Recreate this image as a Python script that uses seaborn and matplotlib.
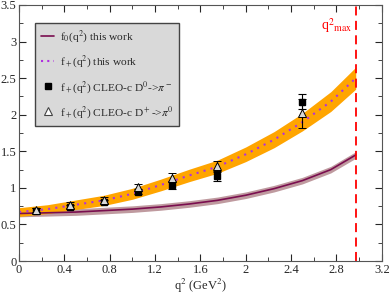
import numpy as np
import pandas as pd
import seaborn as sns
import matplotlib.pyplot as plt
from matplotlib.lines import Line2D

# form factor curves
q2_curve = [0.0, 0.25, 0.5, 0.75, 1.0, 1.25, 1.5, 1.75, 2.0, 2.25, 2.5, 2.75, 2.97]
fplus = [0.67, 0.71, 0.77, 0.83, 0.92, 1.04, 1.17, 1.29, 1.46, 1.66, 1.90, 2.18, 2.50]
fplus_err = [0.06, 0.06, 0.065, 0.07, 0.075, 0.08, 0.085, 0.09, 0.10, 0.11, 0.12, 0.135, 0.15]
fzero = [0.65, 0.66, 0.67, 0.69, 0.71, 0.74, 0.78, 0.83, 0.90, 0.99, 1.10, 1.25, 1.45]
fzero_err = [0.045, 0.045, 0.045, 0.045, 0.045, 0.045, 0.045, 0.045, 0.045, 0.045, 0.045, 0.045, 0.045]

# CLEO-c data
q2_data = [0.15, 0.45, 0.75, 1.05, 1.35, 1.75, 2.5]
d0_val = [0.69, 0.74, 0.81, 0.95, 1.04, 1.16, 2.18]
d0_err = [0.03, 0.03, 0.03, 0.04, 0.05, 0.06, 0.10]
dp_val = [0.70, 0.77, 0.84, 1.01, 1.14, 1.30, 2.02]
dp_err = [0.03, 0.04, 0.04, 0.05, 0.06, 0.07, 0.20]

q2_max = 2.97

sns.set_style("ticks")
plt.rcParams['font.family'] = ['Liberation Serif', 'DejaVu Serif']
plt.rcParams['mathtext.fontset'] = 'stix'

df = pd.DataFrame({'q2': q2_curve, 'fplus': fplus, 'fzero': fzero})
fp = np.array(fplus); fpe = np.array(fplus_err)
f0 = np.array(fzero); f0e = np.array(fzero_err)

fig = plt.figure(figsize=(3.9, 2.94), dpi=100)
ax = fig.add_axes([0.049, 0.112, 0.930, 0.871])

ax.fill_between(q2_curve, f0 - f0e, f0 + f0e, color='#bf9a9f', lw=0)
ax.fill_between(q2_curve, fp - fpe, fp + fpe, color='#ffa500', lw=0)
sns.lineplot(data=df, x='q2', y='fzero', ax=ax, color='#7a0e4f', lw=1.2)
sns.lineplot(data=df, x='q2', y='fplus', ax=ax, color='#b030e0', lw=1.5, linestyle=(0, (1, 2.5)))

ax.errorbar(q2_data, d0_val, yerr=d0_err, fmt='s', color='black', ms=5,
            capsize=3, elinewidth=0.8, capthick=0.8, zorder=4)
ax.errorbar(q2_data, dp_val, yerr=dp_err, fmt='^', mfc='#d8d8d8', mec='black',
            ecolor='black', ms=6, mew=0.7, capsize=3, elinewidth=0.8, capthick=0.8, zorder=5)

ax.axvline(q2_max, color='red', ls=(0, (5, 3)), lw=1.3)
ax.text(2.66, 3.16, r'q$^{2}$$_{\rm max}$', color='red', fontsize=10)

ax.set_xlim(0, 3.2)
ax.set_ylim(0, 3.5)
ax.set_xticks(np.arange(0, 3.21, 0.4))
ax.set_xticks(np.arange(0, 3.21, 0.2), minor=True)
ax.set_yticks(np.arange(0, 3.51, 0.5))
ax.set_yticks(np.arange(0, 3.51, 0.25), minor=True)
ax.set_xticklabels(['0', '0.4', '0.8', '1.2', '1.6', '2', '2.4', '2.8', '3.2'])
ax.set_yticklabels(['0', '0.5', '1', '1.5', '2', '2.5', '3', '3.5'])
ax.tick_params(which='both', direction='in', top=True, right=True, labelsize=9, pad=2)
ax.tick_params(which='major', length=5)
ax.tick_params(which='minor', length=3)
for s in ax.spines.values():
    s.set_color('#555555')
ax.set_xlabel(r'q$^2$ (GeV$^2$)', fontsize=9, labelpad=1)
ax.set_ylabel('')

handles = [
    Line2D([], [], color='#7a0e4f', lw=1.2),
    Line2D([], [], color='#b030e0', lw=1.5, ls=(0, (1, 2))),
    Line2D([], [], marker='s', color='black', ls='none', ms=5),
    Line2D([], [], marker='^', mfc='white', mec='#444444', ls='none', ms=6, mew=0.8),
]
labels = [
    r'f$_0$(q$^2$) this work',
    r'f$_+$(q$^2$) this work',
    r'f$_+$(q$^2$) CLEO-c D$^0$->$\pi^-$',
    r'f$_+$(q$^2$) CLEO-c D$^+$->$\pi^0$',
]
leg = ax.legend(handles, labels, loc='upper left', bbox_to_anchor=(0.044, 0.93),
                borderaxespad=0, fontsize=8.2, frameon=True, fancybox=False,
                handlelength=1.2, handletextpad=0.5, labelspacing=0.75,
                borderpad=0.5, framealpha=1)
leg.get_frame().set_facecolor('#d9d9d9')
leg.get_frame().set_edgecolor('#444444')

fig.savefig('out.png', dpi=100)
